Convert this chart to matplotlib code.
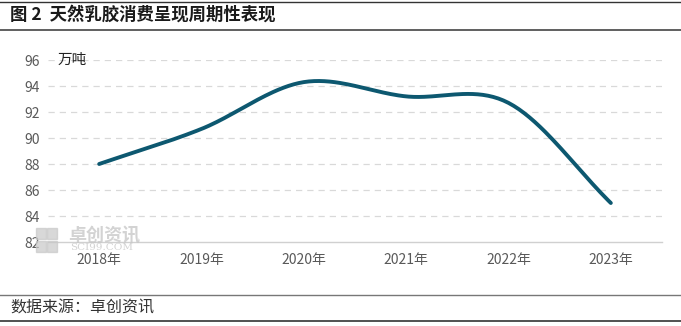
import numpy as np
import matplotlib
matplotlib.use("Agg")
import matplotlib.pyplot as plt
from matplotlib.patches import Rectangle

plt.rcParams['font.family'] = ['Noto Sans CJK SC', 'DejaVu Sans']

years = ["2018年", "2019年", "2020年", "2021年", "2022年", "2023年"]
consumption = [88.0, 90.7, 94.3, 93.2, 92.7, 85.0]
y_ticks = [82, 84, 86, 88, 90, 92, 94, 96]
title = "图 2  天然乳胶消费呈现周期性表现"
unit = "万吨"
source = "数据来源：卓创资讯"


def catmull_rom(y, n=40):
    y = np.asarray(y, dtype=float)
    k = len(y)
    m = np.zeros(k)
    m[0] = y[1] - y[0]
    m[-1] = y[-1] - y[-2]
    m[1:-1] = (y[2:] - y[:-2]) / 2
    xs, ys = [], []
    for i in range(k - 1):
        t = np.linspace(0, 1, n, endpoint=(i == k - 2))
        h00 = 2 * t**3 - 3 * t**2 + 1
        h10 = t**3 - 2 * t**2 + t
        h01 = -2 * t**3 + 3 * t**2
        h11 = t**3 - t**2
        xs.append(i + t)
        ys.append(h00 * y[i] + h10 * m[i] + h01 * y[i + 1] + h11 * m[i + 1])
    return np.concatenate(xs), np.concatenate(ys)


fig = plt.figure(figsize=(6.81, 3.26), dpi=100)
ax = fig.add_axes([48 / 681, 1 - 242 / 326, (662 - 48) / 681, (242 - 60) / 326])

xs, ys = catmull_rom(consumption)
ax.plot(xs, ys, color="#0d5870", lw=2.8, solid_capstyle="round", zorder=3)

ax.set_xlim(-0.5, len(years) - 0.5)
ax.set_ylim(82, 96)
ax.set_yticks(y_ticks)
ax.set_xticks(range(len(years)))
ax.set_xticklabels(years)
ax.tick_params(axis="both", length=0, labelsize=10, colors="#595959")
ax.tick_params(axis="y", pad=6)
ax.tick_params(axis="x", pad=8)
for s in ["left", "right", "top"]:
    ax.spines[s].set_visible(False)
ax.spines["bottom"].set_color("#d0d0d0")
ax.spines["bottom"].set_linewidth(1.0)
for v in y_ticks[1:]:
    ax.axhline(v, color="#d9d9d9", lw=0.9, ls=(0, (5, 4)), zorder=1)

fig.text(58 / 681, 1 - 60 / 326, unit, fontsize=10.5, color="#222222", va="center", ha="left")

# watermark
wm_color = "#c8c8c8"
for (x0, y0) in [(36, 228), (47, 228), (36, 241), (47, 241)]:
    fig.patches.append(Rectangle((x0 / 681, 1 - (y0 + 11) / 326), 10 / 681, 11 / 326,
                                 transform=fig.transFigure, color=wm_color, alpha=0.7, zorder=0))
fig.text(68 / 681, 1 - 235 / 326, "卓创资讯", fontsize=13, color=wm_color, alpha=0.8,
         va="center", ha="left", fontweight="bold")
fig.text(70 / 681, 1 - 248 / 326, "SCI99.COM", fontsize=7.5, color=wm_color, alpha=0.8,
         va="center", ha="left", family="DejaVu Serif")

# title and frame lines
fig.text(10 / 681, 1 - 15 / 326, title, fontsize=12.5, fontweight="bold", color="#1a1a1a",
         va="center", ha="left")
fig.add_artist(plt.Line2D([0, 1], [1 - 1.5 / 326] * 2, color="#333333", lw=1.0))
fig.add_artist(plt.Line2D([0, 1], [1 - 29.5 / 326] * 2, color="#444444", lw=1.2))
fig.add_artist(plt.Line2D([0, 1], [1 - 295 / 326] * 2, color="#777777", lw=1.0))
fig.add_artist(plt.Line2D([0, 1], [1 - 321 / 326] * 2, color="#333333", lw=1.2))
fig.text(10 / 681, 1 - 308 / 326, source, fontsize=11.5, color="#333333", va="center", ha="left")

fig.savefig("out.png", dpi=100)
